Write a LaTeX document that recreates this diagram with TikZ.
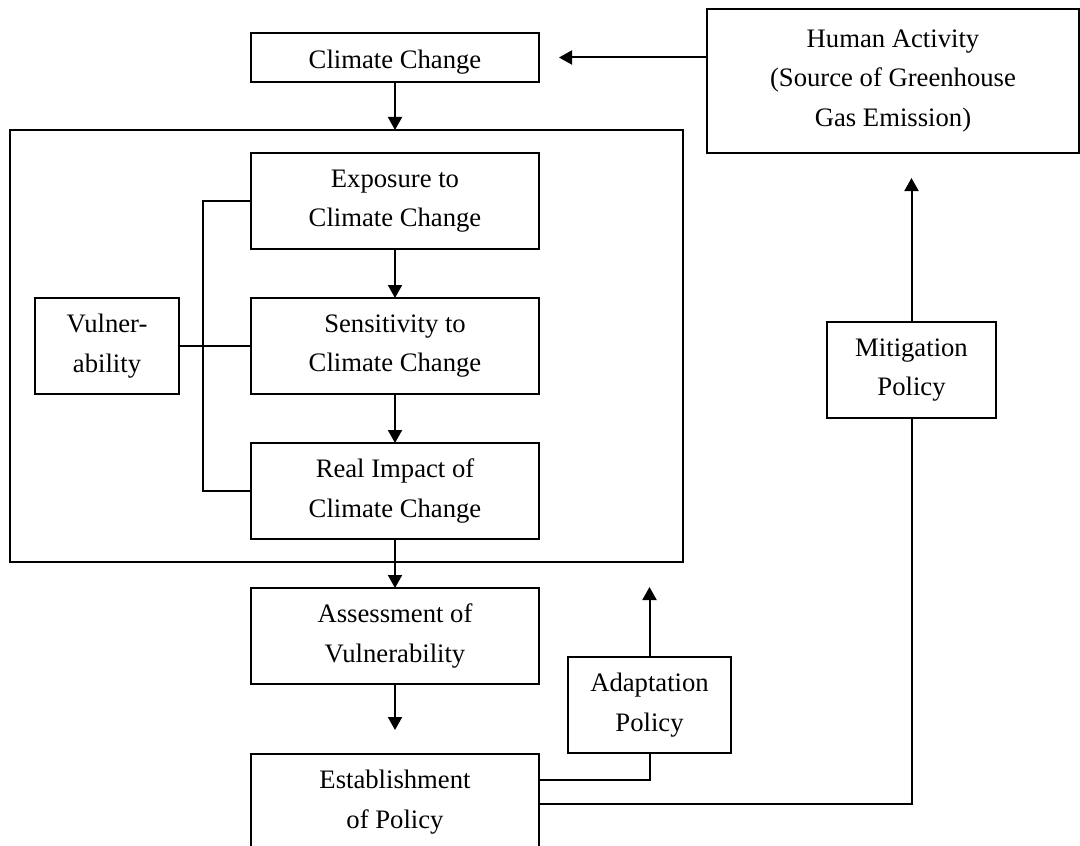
\documentclass[tikz,border=0pt]{standalone}
\usepackage{fontspec}
\setmainfont{Liberation Serif}
\usetikzlibrary{arrows.meta, positioning}

\begin{document}
\begin{tikzpicture}[
    x=0.75pt, y=-0.75pt,
    >={Triangle[length=9.75pt, width=10.5pt]},
    line width=1.5pt,
    node distance=36.75pt,
    box/.style={draw, align=center, inner sep=0pt, outer sep=0pt, minimum width=216pt, minimum height=72pt,
        font=\fontsize{20}{29.5}\selectfont},
    outerbox/.style={draw, inner sep=0pt, outer sep=0pt, minimum width=504.75pt, minimum height=324pt}
]

% Page
\useasboundingbox (0,0) rectangle (1080,845);
\clip (0,0) rectangle (1080,845);
\fill[white] (0,0) rectangle (1080,845);

% Nodes
\node[outerbox] (frame) at (346.5,346) {};
\node[box, minimum height=36.75pt, text height=20pt, text depth=4pt] (cc) at (395,57.5) {Climate Change};
\node[box, minimum width=279pt, minimum height=108pt] (human) at (893,81) {Human Activity\\(Source of Greenhouse\\Gas Emission)};
\node[box] (expo) at (395,201) {Exposure to\\Climate Change};
\node[box, below=of expo] (sens) {Sensitivity to\\Climate Change};
\node[box, below=of sens] (real) {Real Impact of\\Climate Change};
\node[box, below=of real] (assess) {Assessment of\\Vulnerability};
\node[box, below=52.5pt of assess] (estab) {Establishment\\of Policy};
\node[box, minimum width=108pt, left=54pt of sens] (vuln) {Vulner-\\ability};
\node[box, minimum width=122.25pt] (adapt) at (649.5,705) {Adaptation\\Policy};
\node[box, minimum width=126.75pt] (mitig) at (911.5,370) {Mitigation\\Policy};

% Free ends
\coordinate (spine) at (203,346);
\coordinate (cc-in) at ([xshift=15pt]cc.east);
\coordinate (estab-in) at ([yshift=18pt]estab.north);
\path (adapt |- frame.south) ++(0,25) coordinate (adapt-out);
\path (mitig |- human.south) ++(0,25) coordinate (mitig-out);

% Arrows
\draw[->] (cc) -- (cc |- frame.north);
\draw[->] (expo) -- (sens);
\draw[->] (sens) -- (real);
\draw[->] (real) -- (assess);
\draw[->] (assess) -- (estab-in);
\draw[->] (human.west |- cc) -- (cc-in);
\draw[->] (adapt) -- (adapt-out);
\draw[->] (mitig) -- (mitig-out);

% Plain links
\draw (vuln) -- (sens);
\draw (expo.west) -| (spine) |- (real.west);
\draw ([yshift=16.5pt]estab.east) -| (adapt);
\draw ([yshift=-1.5pt]estab.east) -| (mitig);

\end{tikzpicture}
\end{document}
